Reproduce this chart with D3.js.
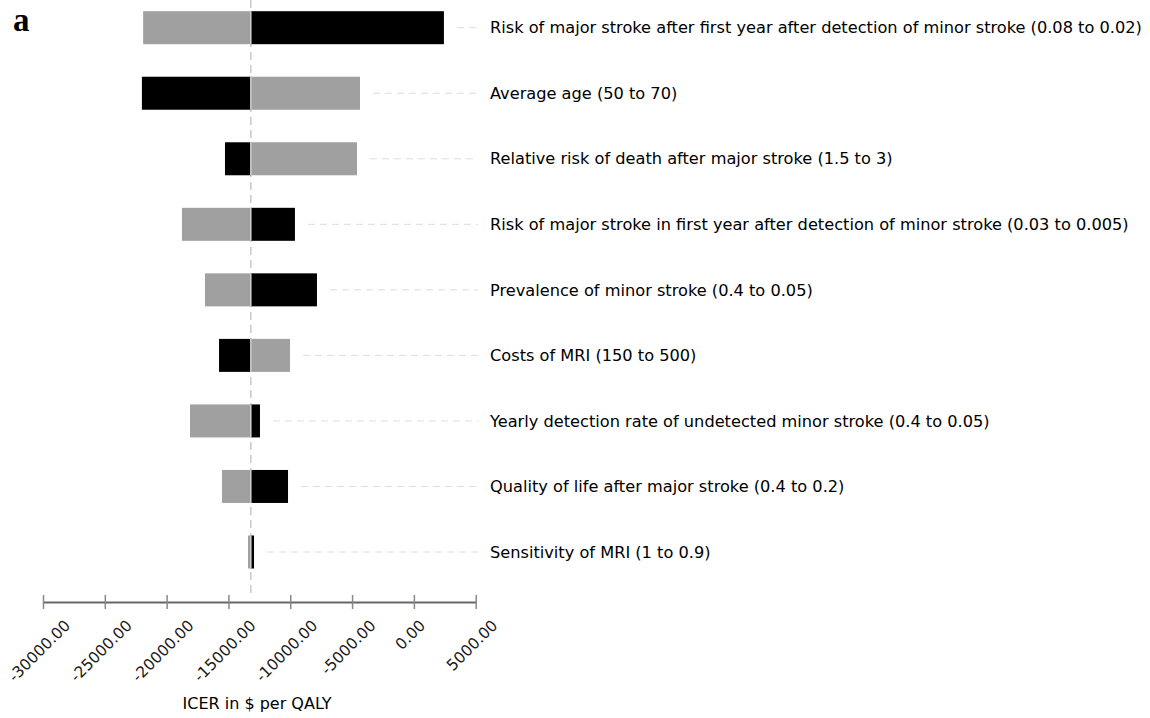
<!DOCTYPE html>
<html>
<head>
<meta charset="utf-8">
<script src="https://cdn.jsdelivr.net/npm/d3@7"></script>
<style>
  html, body { margin: 0; padding: 0; background: #fff; }
  svg { display: block; }
</style>
</head>
<body>
<svg id="chart" width="1150" height="718"></svg>
<script>
// One-way sensitivity analysis (tornado diagram) of the ICER
const parameters = [
  "Risk of major stroke after first year after detection of minor stroke (0.08 to 0.02)",
  "Average age (50 to 70)",
  "Relative risk of death after major stroke (1.5 to 3)",
  "Risk of major stroke in first year after detection of minor stroke (0.03 to 0.005)",
  "Prevalence of minor stroke (0.4 to 0.05)",
  "Costs of MRI (150 to 500)",
  "Yearly detection rate of undetected minor stroke (0.4 to 0.05)",
  "Quality of life after major stroke (0.4 to 0.2)",
  "Sensitivity of MRI (1 to 0.9)"
];
// ICER at the low end of each parameter range (grey bars)
const lowValues  = [-21900, -4360, -4600, -18760, -16900, -10020, -18110, -15520, -13420];
// ICER at the high end of each parameter range (black bars)
const highValues = [2430, -22000, -15280, -9620, -7840, -15760, -12450, -10180, -12930];
const baseCase = -13190;
const tickValues = [-30000, -25000, -20000, -15000, -10000, -5000, 0, 5000];

const svg = d3.select("#chart");
const font = "'DejaVu Sans', sans-serif";

const x = d3.scaleLinear().domain([-30000, 5000]).range([43, 475.7]);
const y = d3.scalePoint().domain(parameters).range([27.7, 552]);
const barH = 33;
const axisY = 602;
const labelX = 490;

const rows = parameters.map((p, i) => ({ name: p, low: lowValues[i], high: highValues[i] }));

// base-case reference line (dashed, behind the bars)
svg.append("line")
  .attr("x1", x(baseCase)).attr("x2", x(baseCase))
  .attr("y1", 0).attr("y2", 596)
  .attr("stroke", "#c8c8c8")
  .attr("stroke-width", 1.5)
  .attr("stroke-dasharray", "8,5");

const bars = svg.append("g");
rows.forEach(d => {
  // grey = low input value, black = high input value
  [[d.low, "#a0a0a0"], [d.high, "#000000"]].forEach(([v, c]) => {
    bars.append("rect")
      .attr("x", Math.min(x(v), x(baseCase)))
      .attr("y", y(d.name) - barH / 2)
      .attr("width", Math.abs(x(v) - x(baseCase)))
      .attr("height", barH)
      .attr("fill", c);
  });
  // base-case divider across each bar
  bars.append("line")
    .attr("x1", x(baseCase)).attr("x2", x(baseCase))
    .attr("y1", y(d.name) - barH / 2).attr("y2", y(d.name) + barH / 2)
    .attr("stroke", "#cfcfcf")
    .attr("stroke-width", 1.5);
});

// dashed leader lines from the bars to the parameter labels
svg.append("g").selectAll("line")
  .data(rows)
  .join("line")
  .attr("x1", d => Math.max(x(d.low), x(d.high), x(baseCase)) + 13)
  .attr("x2", labelX - 12)
  .attr("y1", d => y(d.name))
  .attr("y2", d => y(d.name))
  .attr("stroke", "#dcdcdc")
  .attr("stroke-width", 1)
  .attr("stroke-dasharray", "7,5");

// parameter labels
svg.append("g").selectAll("text")
  .data(rows)
  .join("text")
  .attr("x", labelX)
  .attr("y", d => y(d.name))
  .attr("dy", "0.35em")
  .attr("font-family", font)
  .attr("font-size", 16.2)
  .attr("fill", "#000")
  .text(d => d.name);

// x axis
const axis = d3.axisBottom(x)
  .tickValues(tickValues)
  .tickFormat(d => d.toFixed(2))
  .tickSizeInner(7)
  .tickSizeOuter(0);

const gAxis = svg.append("g")
  .attr("transform", `translate(0,${axisY})`)
  .call(axis);

gAxis.select(".domain").attr("stroke", "#666").attr("stroke-width", 2);
gAxis.selectAll(".tick line")
  .attr("y1", -7).attr("y2", 7)
  .attr("stroke", "#888").attr("stroke-width", 1.5);

// rotated tick labels: box centred under the tick, top edge at a fixed line
const labelTop = 619 - axisY;
gAxis.selectAll(".tick text")
  .attr("font-family", font)
  .attr("font-size", 15.5)
  .attr("fill", "#1a1a1a")
  .attr("text-anchor", "middle")
  .attr("dominant-baseline", "central")
  .attr("dy", null)
  .attr("y", 0)
  .each(function () {
    const len = this.getComputedTextLength();
    const h = 11;
    const half = (len + h) * Math.SQRT1_2 / 2;
    d3.select(this).attr("transform", `translate(-4,${labelTop + half}) rotate(-45)`);
  });

svg.append("text")
  .attr("x", 257)
  .attr("y", 709)
  .attr("text-anchor", "middle")
  .attr("font-family", font)
  .attr("font-size", 16)
  .attr("fill", "#000")
  .text("ICER in $ per QALY");

// panel letter
svg.append("text")
  .attr("x", 13)
  .attr("y", 31)
  .attr("font-family", "'Liberation Serif', serif")
  .attr("font-weight", "bold")
  .attr("font-size", 33)
  .attr("fill", "#000")
  .text("a");
</script>
</body>
</html>
